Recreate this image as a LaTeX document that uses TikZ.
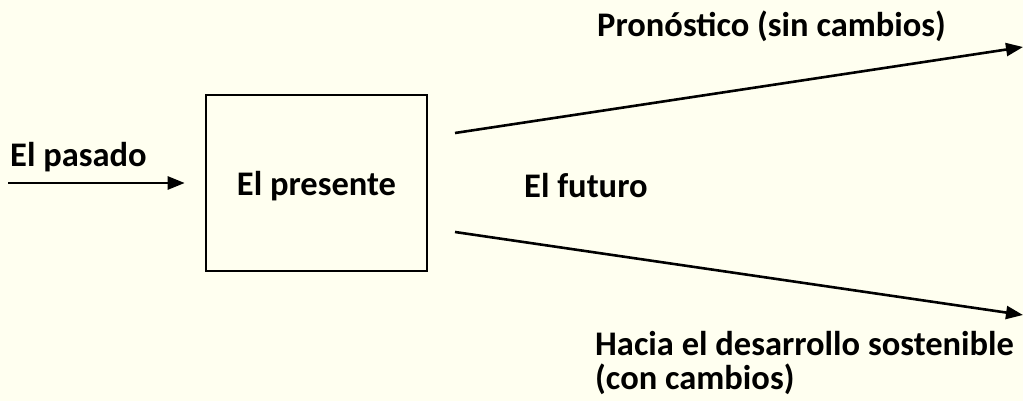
\documentclass[tikz,border=0pt]{standalone}
\usepackage{fontspec}
\setmainfont{Carlito}
\usetikzlibrary{arrows.meta}
\definecolor{bgc}{HTML}{FFFFF0}
\begin{document}
\begin{tikzpicture}[x=1pt,y=-1pt,
  txt/.style={font=\bfseries\fontsize{34.5}{30}\selectfont},
  lbl/.style={txt, inner sep=0pt, anchor=base west},
  arr/.style={line width=2.6pt, -{Triangle[length=17pt,width=13pt]}},
  boxst/.style={draw, line width=2.6pt, minimum width=221pt, minimum height=176pt, inner sep=0pt}]
\fill[bgc] (0,0) rectangle (1023,401);
\useasboundingbox (0,0) rectangle (1023,401);
\node[boxst] (pres) at (316.5,183) {};
\node[lbl, anchor=base] (prestxt) at (316.5,195) {El presente};
\node[lbl] (pas) at (10,167) {El pasado};
\node[lbl] (fut) at (524,197) {El futuro};
\node[lbl] (pron) at (597,37) {Pronóstico (sin cambios)};
\node[lbl] (hacia) at (595,355) {Hacia el desarrollo sostenible};
\node[lbl] (hacia2) at (595,389) {(con cambios)};
\coordinate (s0) at (8,183);
\coordinate (u0) at (455,133);
\coordinate (u1) at (1023,47);
\coordinate (d0) at (455,232);
\coordinate (d1) at (1023,315);
\draw[arr] (s0) -- ([xshift=-20pt]pres.west |- s0);
\draw[arr] (u0) -- (u1);
\draw[arr] (d0) -- (d1);
\end{tikzpicture}
\end{document}
